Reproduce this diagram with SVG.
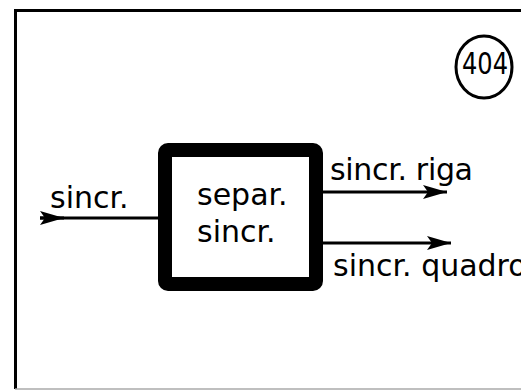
<svg xmlns="http://www.w3.org/2000/svg" width="521" height="390" viewBox="0 0 521 390">
<style>
.t{font-family:"DejaVu Sans",sans-serif;font-size:30px;fill:#000}
.ln{stroke:#000;stroke-width:3;fill:none}
</style>
<defs>
<marker id="ah" viewBox="0 0 24 14" refX="24" refY="7" markerWidth="24" markerHeight="14" markerUnits="userSpaceOnUse" orient="auto">
<path d="M0,0 L24,7 L0,14 L5,7 Z" fill="#000"/>
</marker>
</defs>
<rect width="521" height="390" fill="#fff"/>
<g id="frame">
<path d="M521,10.5 H15.5 V389" fill="none" stroke="#000" stroke-width="3"/>
<line x1="15" y1="389" x2="521" y2="389" stroke="#aaa" stroke-width="1.5"/>
</g>
<g id="label-404">
<ellipse cx="484" cy="67" rx="28" ry="31" fill="none" stroke="#000" stroke-width="3"/>
<text x="485" y="74" class="t" font-size="28" text-anchor="middle" textLength="46" lengthAdjust="spacingAndGlyphs">404</text>
</g>
<g id="connectors">
<line class="ln" x1="40" y1="218" x2="158" y2="218"/>
<path class="ln" d="M40,218 H64" marker-end="url(#ah)"/>
<line class="ln" x1="323" y1="192" x2="447" y2="192" marker-end="url(#ah)"/>
<line class="ln" x1="323" y1="243" x2="451" y2="243" marker-end="url(#ah)"/>
</g>
<g id="node-separ">
<rect x="165" y="150" width="151" height="134" rx="3" fill="#fff" stroke="#000" stroke-width="14"/>
<text x="197" y="205" class="t">separ.</text>
<text x="197" y="242" class="t">sincr.</text>
</g>
<g id="labels">
<text x="50" y="208" class="t">sincr.</text>
<text x="330" y="180" class="t" textLength="143" lengthAdjust="spacing">sincr. riga</text>
<text x="333" y="276" class="t">sincr. quadro</text>
</g>
</svg>
